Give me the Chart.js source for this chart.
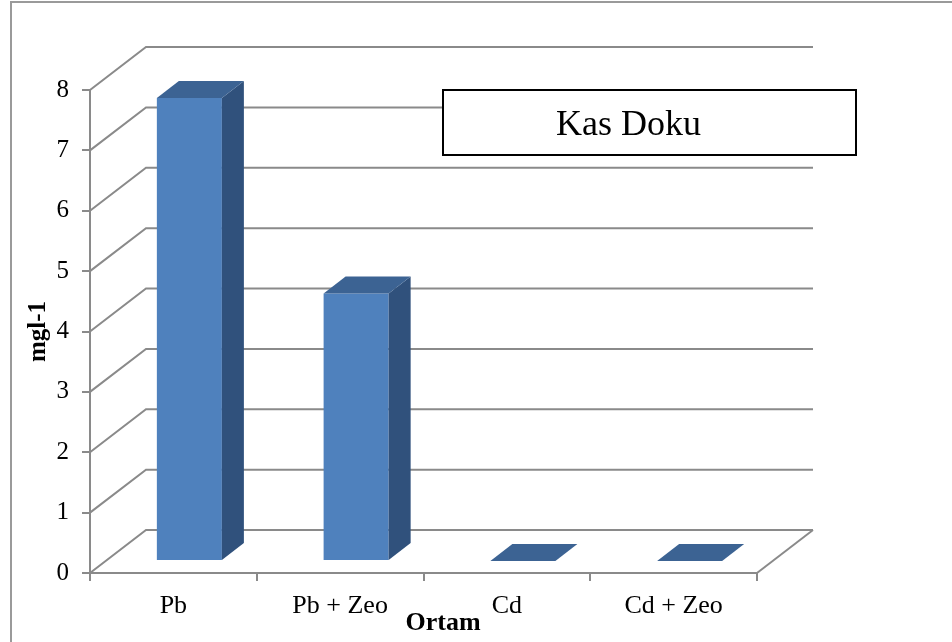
<!DOCTYPE html>
<html>
<head>
<meta charset="utf-8">
<script src="https://cdn.jsdelivr.net/npm/chart.js@4.4.0/dist/chart.umd.min.js"></script>
<style>
  html, body { margin: 0; padding: 0; background: #ffffff; }
  #c { display: block; }
</style>
</head>
<body>
<canvas id="c" width="952" height="642"></canvas>
<script>
// Chart content
const categories = ['Pb', 'Pb + Zeo', 'Cd', 'Cd + Zeo'];
const concentration = [7.67, 4.43, 0, 0];
const yTicks = [0, 1, 2, 3, 4, 5, 6, 7, 8];
const boxLabel = 'Kas Doku';
const xTitle = 'Ortam';
const yTitle = 'mgl-1';

// Look and geometry of the 3-D frame
const SERIF = "'Liberation Serif', 'Times New Roman', serif";
const GRID = '#8a8a8a';
const FRONT = '#4f81bd';
const SIDE = '#30517c';
const TOP = '#3c6393';
const WALL = { dx: 56, dy: -43 };       // depth of side wall and floor
const BAR_SHIFT = { dx: 16, dy: -12 };  // bars stand in the middle of the floor depth
const BAR_DEPTH = { dx: 22, dy: -17 };  // depth of each box

const depth3d = {
  id: 'depth3d',
  beforeDraw(chart) {
    const { ctx, scales: { y } } = chart;
    const left = chart.chartArea.left, right = chart.chartArea.right;
    ctx.save();
    ctx.strokeStyle = GRID;
    ctx.lineWidth = 2;
    ctx.lineJoin = 'miter';
    // side wall diagonals and back wall grid lines
    yTicks.forEach(v => {
      const yf = y.getPixelForValue(v);
      ctx.beginPath();
      ctx.moveTo(left, yf);
      ctx.lineTo(left + WALL.dx, yf + WALL.dy);
      ctx.lineTo(right + WALL.dx, yf + WALL.dy);
      ctx.stroke();
    });
    // right edge of the floor
    const y0 = y.getPixelForValue(0);
    ctx.beginPath();
    ctx.moveTo(right, y0);
    ctx.lineTo(right + WALL.dx, y0 + WALL.dy);
    ctx.stroke();
    ctx.restore();
  },
  beforeDatasetsDraw(chart) {
    chart.ctx.save();
    chart.ctx.translate(BAR_SHIFT.dx, BAR_SHIFT.dy);
  },
  afterDatasetsDraw(chart) {
    const ctx = chart.ctx;
    const { dx, dy } = BAR_DEPTH;
    chart.getDatasetMeta(0).data.forEach(bar => {
      const { x, y, base, width } = bar.getProps(['x', 'y', 'base', 'width'], true);
      const l = x - width / 2, r = x + width / 2;
      // right side face
      if (base - y > 0) {
        ctx.fillStyle = SIDE;
        ctx.beginPath();
        ctx.moveTo(r, y);
        ctx.lineTo(r + dx, y + dy);
        ctx.lineTo(r + dx, base + dy);
        ctx.lineTo(r, base);
        ctx.closePath();
        ctx.fill();
      }
      // top face
      ctx.fillStyle = TOP;
      ctx.beginPath();
      ctx.moveTo(l, y);
      ctx.lineTo(l + dx, y + dy);
      ctx.lineTo(r + dx, y + dy);
      ctx.lineTo(r, y);
      ctx.closePath();
      ctx.fill();
    });
    ctx.restore();
  },
  afterDraw(chart) {
    const ctx = chart.ctx;
    ctx.save();
    // boxed label
    ctx.fillStyle = '#ffffff';
    ctx.fillRect(443, 90, 413, 65);
    ctx.strokeStyle = '#000000';
    ctx.lineWidth = 2;
    ctx.strokeRect(443, 90, 413, 65);
    ctx.fillStyle = '#000000';
    ctx.font = '36px ' + SERIF;
    ctx.textAlign = 'left';
    ctx.textBaseline = 'alphabetic';
    ctx.fillText(boxLabel, 556, 135);
    // category axis title
    ctx.font = 'bold 26px ' + SERIF;
    ctx.textAlign = 'center';
    ctx.fillText(xTitle, 443, 630);
    // outer frame
    ctx.strokeStyle = '#9a9a9a';
    ctx.lineWidth = 2;
    ctx.beginPath();
    ctx.moveTo(11, 650);
    ctx.lineTo(11, 2);
    ctx.lineTo(960, 2);
    ctx.stroke();
    ctx.restore();
  }
};

new Chart(document.getElementById('c'), {
  type: 'bar',
  data: {
    labels: categories,
    datasets: [{
      data: concentration,
      backgroundColor: FRONT,
      borderWidth: 0,
      categoryPercentage: 1,
      barPercentage: 0.39,
      clip: false
    }]
  },
  options: {
    responsive: false,
    animation: false,
    events: [],
    layout: { padding: { left: 0, right: 195, top: 90, bottom: 0 } },
    plugins: { legend: { display: false }, tooltip: { enabled: false }, title: { display: false } },
    scales: {
      x: {
        type: 'category',
        offset: true,
        grid: { offset: true, drawOnChartArea: false, drawTicks: true, tickLength: 8, color: GRID, lineWidth: 2 },
        border: { display: true, color: GRID, width: 2 },
        ticks: { font: { family: SERIF, size: 26 }, color: '#000000', padding: 10, maxRotation: 0, autoSkip: false },
        afterFit(s) { s.height = 69; }
      },
      y: {
        min: 0,
        max: 8,
        afterBuildTicks(s) { s.ticks = yTicks.map(v => ({ value: v })); },
        grid: { drawOnChartArea: false, drawTicks: true, tickLength: 8, color: GRID, lineWidth: 2 },
        border: { display: true, color: GRID, width: 2 },
        ticks: { font: { family: SERIF, size: 25 }, color: '#000000', padding: 13 },
        title: {
          display: true,
          text: yTitle,
          color: '#000000',
          font: { family: SERIF, size: 25, weight: 'bold' },
          padding: { top: 24, bottom: 0 }
        },
        afterFit(s) { s.width = 90; }
      }
    }
  },
  plugins: [depth3d]
});
</script>
</body>
</html>
